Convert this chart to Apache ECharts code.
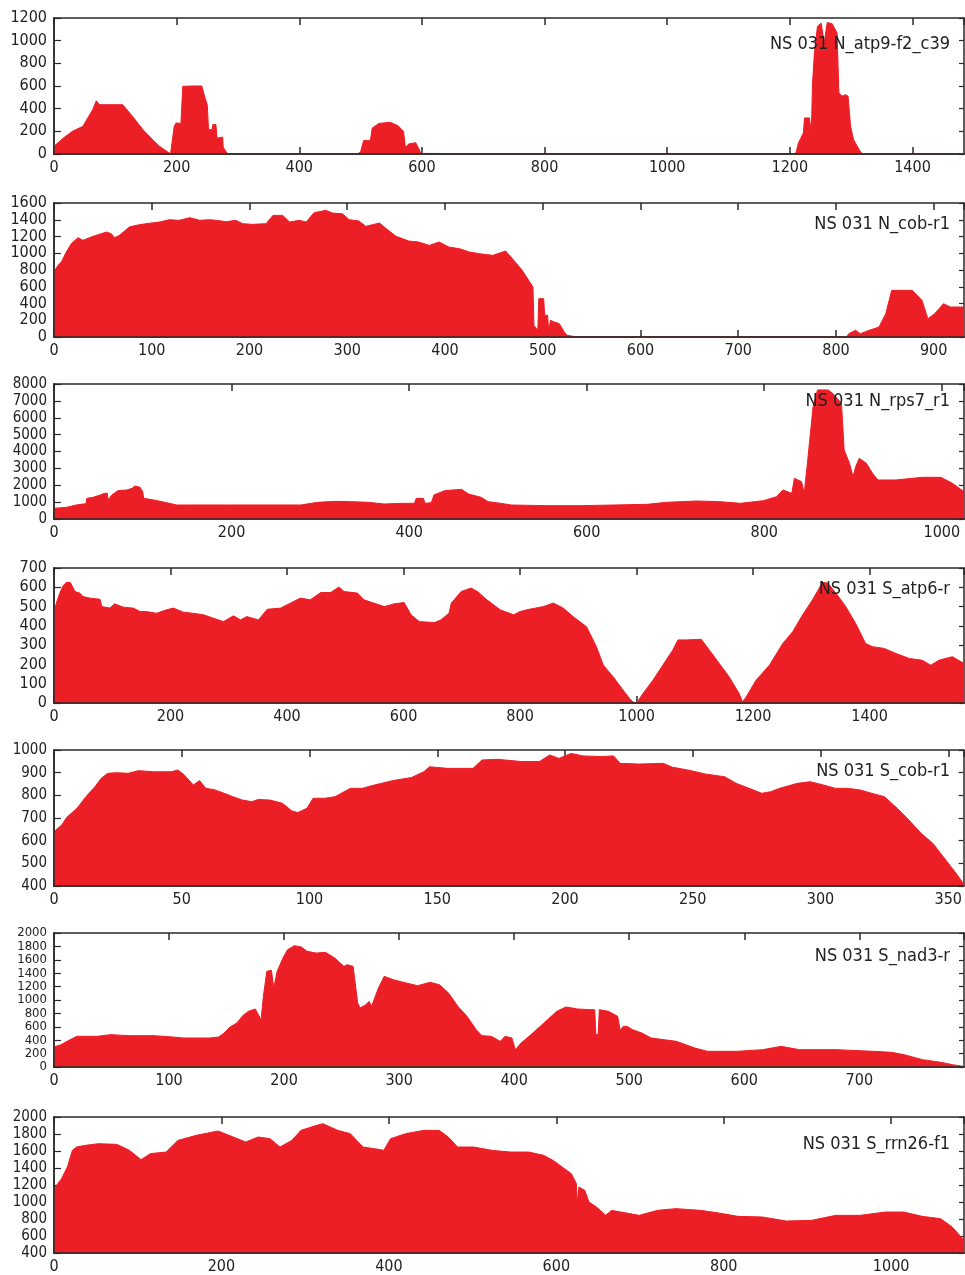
<!DOCTYPE html>
<html><head><meta charset="utf-8">
<script src="https://cdn.jsdelivr.net/npm/echarts@6/dist/echarts.min.js"></script>
<style>html,body{margin:0;padding:0;background:#fff}#c{width:965px;height:1275px}</style>
</head><body><div id="c"></div>
<script>
// ---- data ----
const titles = ['NS 031 N_atp9-f2_c39','NS 031 N_cob-r1','NS 031 N_rps7_r1','NS 031 S_atp6-r','NS 031 S_cob-r1','NS 031 S_nad3-r','NS 031 S_rrn26-f1'];
const xMax = [1484, 931, 1025, 1562, 356, 791, 1087];
const xStep = [200, 100, 200, 200, 50, 100, 200];
const yMin = [0, 0, 0, 0, 400, 0, 400];
const yMax = [1200, 1600, 8000, 700, 1000, 2000, 2000];
const yStep = [200, 200, 1000, 100, 100, 200, 200];

const covAtp9 = [[0,68],[15,140],[30,200],[47,244],[63,390],[69,470],[74,435],[112,435],[128,332],[145,215],[161,126],[172,68],[185,20],[190,0],[191,40],[196,244],[199,274],[207,270],[209,270],[210,597],[225,600],[241,600],[245,520],[250,430],[252,215],[258,215],[259,260],[264,260],[266,140],[269,150],[275,150],[276,60],[283,0],[495,0],[500,20],[505,120],[516,120],[519,230],[530,270],[548,280],[561,250],[570,200],[573,60],[579,90],[590,100],[599,0],[605,5],[628,5],[632,0],[1205,0],[1210,10],[1214,97],[1222,185],[1224,318],[1232,318],[1235,185],[1237,626],[1240,890],[1245,1126],[1251,1155],[1256,980],[1261,1160],[1269,1150],[1277,1068],[1280,540],[1285,510],[1291,523],[1295,510],[1299,244],[1304,126],[1313,38],[1318,0],[1460,0],[1462,4],[1484,4]];

const covCobN = [[0,776],[4,855],[7.5,895],[12.6,1015],[17.7,1114],[24.5,1186],[29.6,1154],[40,1202],[46.7,1226],[53.5,1253],[58.6,1234],[62,1186],[67,1214],[77,1313],[84,1333],[94,1353],[108,1373],[118,1401],[128,1393],[139,1425],[149,1393],[159,1401],[166,1393],[176,1377],[186,1393],[193,1353],[203,1345],[217,1353],[224,1452],[234,1452],[241,1373],[251,1393],[258,1373],[266,1484],[278,1512],[285,1480],[295,1472],[302,1401],[312,1385],[319,1321],[333,1361],[340,1293],[350,1202],[363,1146],[373,1134],[384,1094],[394,1134],[404,1074],[415,1054],[425,1015],[435,995],[449,975],[459,1015],[462,1027],[469,935],[479,796],[490,597],[491,139],[495,80],[496,458],[501,458],[502,259],[505,259],[506,80],[508,199],[512,179],[517,159],[522,60],[525,20],[531,8],[535,0],[811,0],[813,40],[820,80],[825,40],[834,80],[844,119],[851,279],[857,557],[878,557],[888,438],[894,219],[901,279],[910,398],[917,358],[931,358]];

const covRps7 = [[0,632],[14,692],[25,830],[33,890],[36,900],[37,1225],[44,1285],[52,1423],[57,1522],[60,1522],[61,1126],[65,1423],[72,1680],[82,1719],[88,1818],[91,1957],[97,1877],[100,1600],[101,1225],[108,1166],[116,1087],[127,968],[138,830],[150,830],[200,830],[278,830],[297,988],[316,1047],[335,1028],[354,988],[372,889],[391,929],[406,929],[408,1225],[416,1225],[418,929],[425,968],[428,1423],[440,1680],[459,1759],[467,1482],[481,1285],[489,1028],[503,929],[515,830],[556,790],[593,790],[631,830],[668,870],[690,988],[724,1067],[750,1028],[773,929],[799,1087],[814,1324],[821,1719],[831,1522],[834,2411],[842,2213],[845,1522],[849,3498],[855,6660],[860,7648],[872,7648],[877,7450],[887,6858],[890,4091],[896,3300],[900,2510],[903,3103],[907,3597],[915,3300],[922,2708],[928,2312],[948,2312],[978,2470],[999,2470],[1012,2115],[1025,1621]];

const covAtp6 = [[0,465],[4,518],[10,570],[15,604],[21,625],[28,625],[32,601],[36,578],[44,570],[50,552],[61,544],[79,538],[82,500],[96,492],[104,514],[119,497],[136,492],[148,474],[159,474],[176,465],[193,483],[205,492],[222,471],[239,465],[257,457],[274,439],[291,422],[308,452],[320,431],[331,448],[351,431],[366,486],[389,492],[406,518],[423,544],[440,535],[458,573],[475,573],[489,601],[498,578],[521,570],[532,535],[549,518],[567,500],[584,514],[601,521],[613,457],[627,422],[653,417],[664,431],[678,465],[682,518],[699,578],[716,596],[727,578],[743,535],[766,483],[789,457],[800,474],[811,483],[840,500],[857,518],[874,492],[891,448],[914,396],[931,292],[943,196],[960,135],[977,66],[988,23],[994,5],[1000,0],[1011,49],[1028,118],[1045,196],[1062,274],[1071,327],[1085,327],[1111,330],[1125,274],[1142,205],[1159,135],[1176,49],[1182,5],[1188,31],[1205,118],[1228,196],[1251,309],[1268,370],[1285,457],[1302,535],[1319,625],[1328,622],[1342,570],[1359,500],[1376,413],[1393,309],[1405,292],[1425,283],[1445,257],[1468,231],[1490,222],[1505,196],[1519,222],[1542,240],[1562,205]];

const covCobS = [[0,640],[3,669],[5,703],[9,743],[12.5,794],[16,838],[18.5,875],[21,897],[24.5,900],[29,897],[33,909],[39,904],[46,904],[48.5,912],[51,890],[54.5,846],[57,865],[59.4,831],[63,824],[66.6,809],[70,794],[73.8,779],[77.4,772],[80,782],[84.6,779],[89.4,765],[93,732],[95.4,724],[99,743],[101.4,787],[106,787],[110,794],[116,831],[120.7,831],[125.5,846],[132.7,865],[140,879],[144.7,904],[147,926],[154,919],[164,919],[167.5,956],[173.5,959],[183,949],[190,949],[194,978],[197.6,963],[202.4,985],[207,974],[214,971],[219,974],[221.6,941],[229,938],[238.5,941],[242,924],[248,912],[255,894],[262.5,882],[267,853],[272,831],[277,809],[280.5,816],[284,831],[291,853],[296,860],[301,846],[305.8,831],[310.6,831],[315.4,824],[320,809],[325,794],[330,743],[334.6,691],[339.4,632],[344,588],[349,515],[352.6,463],[356,410]];

const covNad3 = [[0,300],[6,333],[14,408],[20,458],[38,458],[49,483],[65,468],[87,468],[103,448],[113,433],[135,433],[143,448],[148,507],[153,597],[159,657],[164,766],[169,831],[175,866],[180,706],[182,1055],[185,1428],[189,1443],[191,1179],[194,1428],[199,1627],[203,1751],[209,1811],[215,1791],[220,1726],[228,1701],[236,1711],[244,1627],[252,1502],[255,1527],[260,1502],[264,955],[266,881],[271,930],[274,980],[276,905],[282,1179],[287,1353],[295,1303],[306,1254],[316,1214],[327,1264],[335,1229],[343,1104],[351,905],[359,756],[367,557],[372,468],[380,458],[388,383],[392,458],[398,433],[401,259],[406,358],[413,458],[421,582],[429,706],[437,831],[445,896],[455,866],[466,856],[470,856],[471,483],[473,483],[474,856],[482,831],[490,756],[492,557],[495,607],[498,607],[503,557],[511,507],[519,433],[541,383],[557,284],[568,234],[594,234],[616,259],[632,308],[648,259],[680,259],[712,234],[728,219],[739,184],[755,109],[771,70],[781,35],[791,8]];

const covRrn26 = [[0,1157],[9,1275],[16,1412],[22,1608],[27,1647],[38,1667],[53,1686],[75,1678],[90,1608],[104,1498],[115,1569],[134,1588],[148,1725],[170,1784],[196,1835],[214,1765],[229,1706],[244,1765],[258,1745],[270,1647],[284,1725],[295,1843],[310,1890],[321,1922],[339,1843],[354,1804],[369,1647],[383,1627],[394,1608],[402,1745],[420,1804],[442,1843],[460,1843],[471,1765],[482,1647],[501,1647],[523,1608],[545,1588],[567,1588],[585,1549],[596,1490],[607,1412],[618,1333],[624,1216],[625,980],[626,980],[627,1176],[634,1137],[639,1000],[648,941],[659,843],[666,902],[677,882],[699,843],[721,902],[743,922],[772,902],[794,871],[817,831],[846,824],[875,776],[905,784],[934,843],[963,843],[993,882],[1015,882],[1037,831],[1059,804],[1073,706],[1087,549]];

const panels = [covAtp9, covCobN, covRps7, covAtp6, covCobS, covNad3, covRrn26];

// ---- layout ----
const gridTop = [18, 203, 384, 568, 750, 933, 1117];
const gridH = [136, 134, 135, 135, 136, 134, 136];
const titleOff = [27, 22, 18, 22, 22, 24, 28];
const yFont = [16, 16, 15, 16, 15, 13, 15];
const yLineH = [16, 14, 14, 16, 16, 13, 14];
const RED = '#ED1F26';
const FONT = "'DejaVu Sans Condensed','Liberation Sans Narrow',sans-serif";
const AX = '#2a2a2a';

const grids = [], xAxes = [], yAxes = [], series = [], title = [];
panels.forEach((d, i) => {
  grids.push({left: 54, right: 1, top: gridTop[i], height: gridH[i], containLabel: false});
  const xs = xStep[i];
  const base = {type: 'value', gridIndex: i, min: 0, max: xMax[i], interval: xs, splitLine: {show: false}};
  xAxes.push(Object.assign({}, base, {position: 'bottom',
    axisLine: {show: true, onZero: false, lineStyle: {color: AX, width: 1.5}},
    axisTick: {show: true, inside: true, length: 7, lineStyle: {color: AX, width: 1.5}},
    axisLabel: {show: true, margin: 6, color: '#222', fontSize: 16, fontFamily: FONT, showMaxLabel: false,
      formatter: v => (v % xs === 0 ? String(v) : '')}}));
  xAxes.push(Object.assign({}, base, {position: 'top',
    axisLine: {show: true, onZero: false, lineStyle: {color: AX, width: 1.5}},
    axisTick: {show: true, inside: true, length: 7, lineStyle: {color: AX, width: 1.5}},
    axisLabel: {show: false}}));
  xAxes.push(Object.assign({}, base, {position: 'bottom', z: 5,
    axisLine: {show: true, onZero: false, lineStyle: {color: AX, width: 1.5}},
    axisTick: {show: false}, axisLabel: {show: false}}));
  const ybase = {type: 'value', gridIndex: i, min: yMin[i], max: yMax[i], interval: yStep[i], splitLine: {show: false}};
  yAxes.push(Object.assign({}, ybase, {position: 'left',
    axisLine: {show: true, onZero: false, lineStyle: {color: AX, width: 1.5}},
    axisTick: {show: true, inside: true, length: 7, lineStyle: {color: AX, width: 1.2}},
    axisLabel: {show: true, margin: 7, color: '#222', fontSize: yFont[i], lineHeight: yLineH[i], fontFamily: FONT,
      showMinLabel: true, showMaxLabel: true, hideOverlap: false, formatter: v => String(v)}}));
  yAxes.push(Object.assign({}, ybase, {position: 'right',
    axisLine: {show: true, onZero: false, lineStyle: {color: AX, width: 1.5}},
    axisTick: {show: true, inside: true, length: 5, lineStyle: {color: AX, width: 1.2}},
    axisLabel: {show: false}}));
  yAxes.push(Object.assign({}, ybase, {position: 'left', z: 5,
    axisLine: {show: true, onZero: false, lineStyle: {color: AX, width: 1.5}},
    axisTick: {show: false}, axisLabel: {show: false}}));
  series.push({type: 'line', xAxisIndex: i * 3, yAxisIndex: i * 3, data: d,
    symbol: 'none', showSymbol: false, silent: true,
    lineStyle: {width: 1, color: RED}, areaStyle: {color: RED, opacity: 1, origin: 'start'}, z: 2});
  title.push({text: titles[i], right: 15, top: gridTop[i] + titleOff[i] - 10, padding: 0,
    textStyle: {fontSize: 18, fontWeight: 'normal', color: '#222', fontFamily: FONT}});
});

const chart = echarts.init(document.getElementById('c'), null, {renderer: 'canvas'});
chart.setOption({animation: false, backgroundColor: '#fff', title, grid: grids, xAxis: xAxes, yAxis: yAxes, series});
</script></body></html>
